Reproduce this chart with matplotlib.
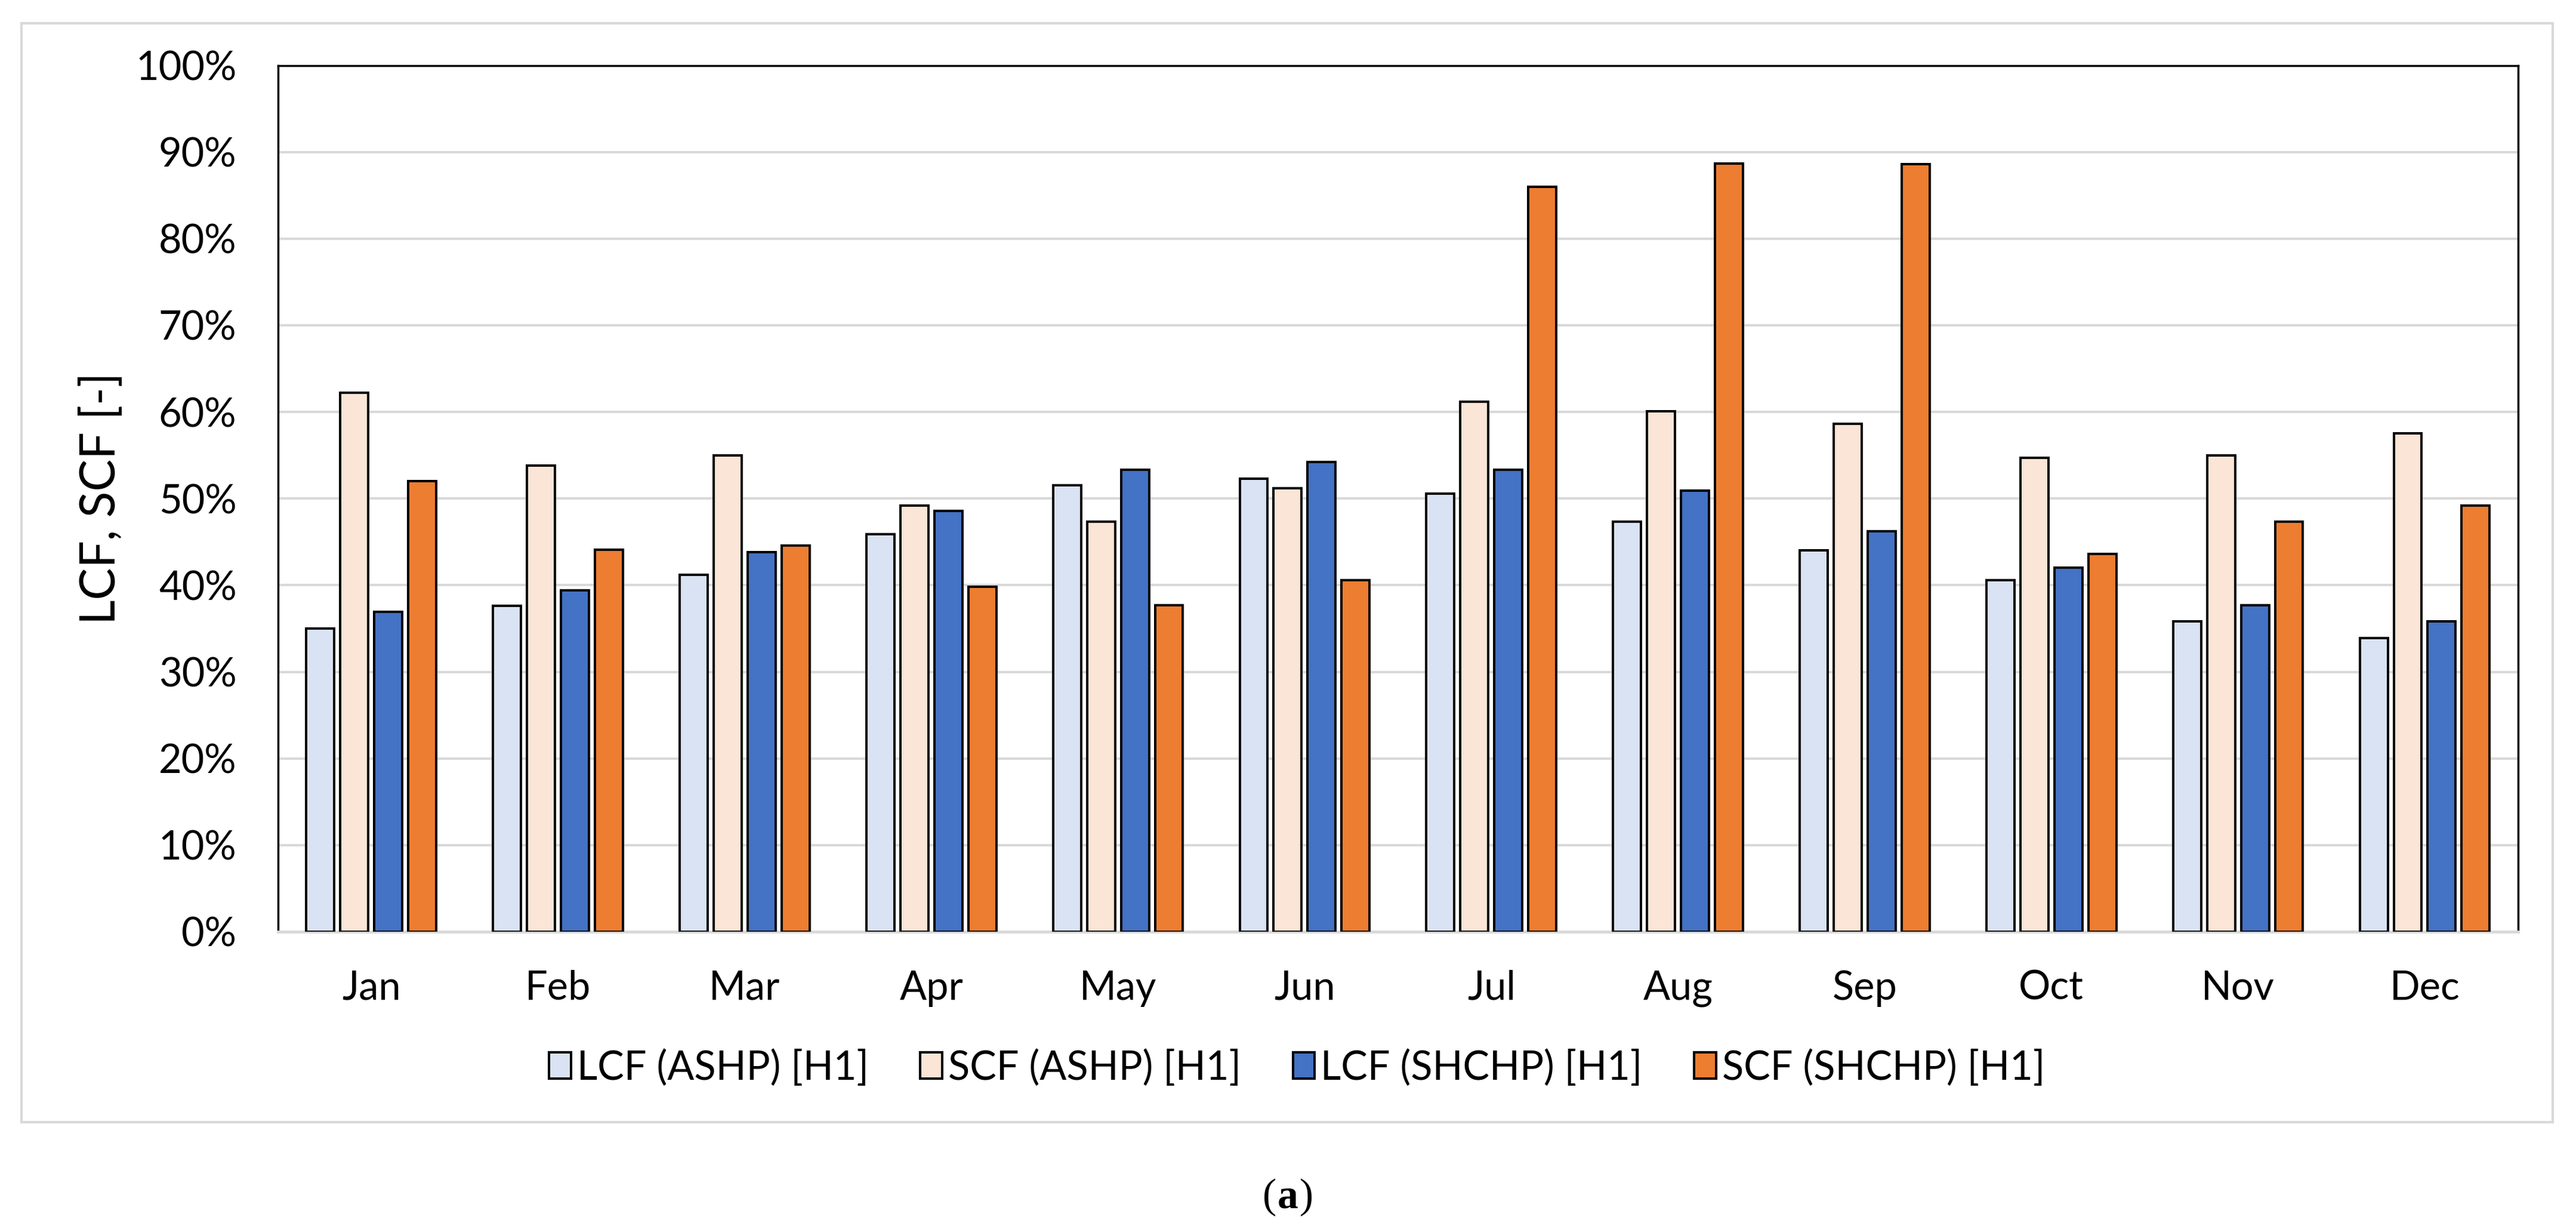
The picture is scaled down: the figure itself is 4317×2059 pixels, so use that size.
"""Monthly LCF / SCF for ASHP vs SHCHP systems, H1 case (panel a)."""

import matplotlib

matplotlib.use("Agg")
import matplotlib.pyplot as plt  # noqa: E402
import numpy as np  # noqa: E402
from matplotlib.patches import Rectangle  # noqa: E402
from matplotlib.ticker import FuncFormatter, MultipleLocator  # noqa: E402

MONTHS = ["Jan", "Feb", "Mar", "Apr", "May", "Jun",
          "Jul", "Aug", "Sep", "Oct", "Nov", "Dec"]

# values in percent
LCF_ASHP = [35.0, 37.6, 41.2, 45.9, 51.5, 52.3, 50.6, 47.3, 44.0, 40.6, 35.8, 33.9]
SCF_ASHP = [62.2, 53.8, 55.0, 49.2, 47.3, 51.2, 61.2, 60.1, 58.6, 54.7, 55.0, 57.5]
LCF_SHCHP = [36.9, 39.4, 43.8, 48.6, 53.3, 54.2, 53.3, 50.9, 46.2, 42.0, 37.7, 35.8]
SCF_SHCHP = [52.0, 44.1, 44.6, 39.8, 37.7, 40.6, 86.0, 88.7, 88.6, 43.6, 47.3, 49.2]

SERIES = [
    ("LCF (ASHP) [H1]", LCF_ASHP, "#dae3f3"),
    ("SCF (ASHP) [H1]", SCF_ASHP, "#fbe5d6"),
    ("LCF (SHCHP) [H1]", LCF_SHCHP, "#4472c4"),
    ("SCF (SHCHP) [H1]", SCF_SHCHP, "#ed7d31"),
]

GRID = "#d9d9d9"
FONT = "Lato"


def main() -> None:
    plt.rcParams["font.family"] = [FONT, "DejaVu Sans"]
    fig = plt.figure(figsize=(43.17, 20.59), dpi=100)
    ax = fig.add_axes([0.1079, 0.2419, 0.8696, 0.7049])

    x = np.arange(len(MONTHS))
    width = 0.15
    pitch = 0.182
    for i, (label, vals, color) in enumerate(SERIES):
        ax.bar(x + (i - 1.5) * pitch, vals, width=width, color=color,
               edgecolor="black", linewidth=2.9, label=label, zorder=3)

    ax.set_xlim(-0.5, len(MONTHS) - 0.5)
    ax.set_ylim(0, 100)
    ax.set_xticks(x)
    ax.set_xticklabels(MONTHS)
    ax.yaxis.set_major_locator(MultipleLocator(10))
    ax.yaxis.set_major_formatter(FuncFormatter(lambda v, _: f"{v:.0f}%"))
    ax.tick_params(axis="both", length=0, labelsize=48)
    ax.tick_params(axis="x", pad=46)
    ax.tick_params(axis="y", pad=50)

    ax.grid(axis="y", color=GRID, linewidth=2.9, zorder=0)
    for side in ("left", "top", "right"):
        ax.spines[side].set_color("black")
        ax.spines[side].set_linewidth(2.5)
    ax.spines["bottom"].set_color(GRID)
    ax.spines["bottom"].set_linewidth(3.5)

    ax.set_ylabel("LCF, SCF [-]", fontsize=58)
    ax.yaxis.set_label_coords(-0.069, 0.5)

    fig.legend(loc="center", bbox_to_anchor=(0.5035, 0.131), ncol=4,
               frameon=False, fontsize=48, handlelength=0.55,
               handleheight=0.65, handletextpad=0.15, columnspacing=1.3)

    # light grey chart-area border
    fig.patches.append(Rectangle((0.0083, 0.0869), 0.9827, 0.8941,
                                 transform=fig.transFigure, fill=False,
                                 edgecolor=GRID, linewidth=3, zorder=0))

    # caption "(a)" with bold a
    cy = 1 - 2006 / 2059
    fig.text(0.5, cy, "a", ha="center", va="center", fontsize=50,
             fontweight="bold", family="Liberation Serif")
    fig.text(0.4955, cy, "(", ha="right", va="center", fontsize=50,
             family="Liberation Serif")
    fig.text(0.5045, cy, ")", ha="left", va="center", fontsize=50,
             family="Liberation Serif")

    fig.savefig("out.png", dpi=100)
    plt.close(fig)


if __name__ == "__main__":
    main()
